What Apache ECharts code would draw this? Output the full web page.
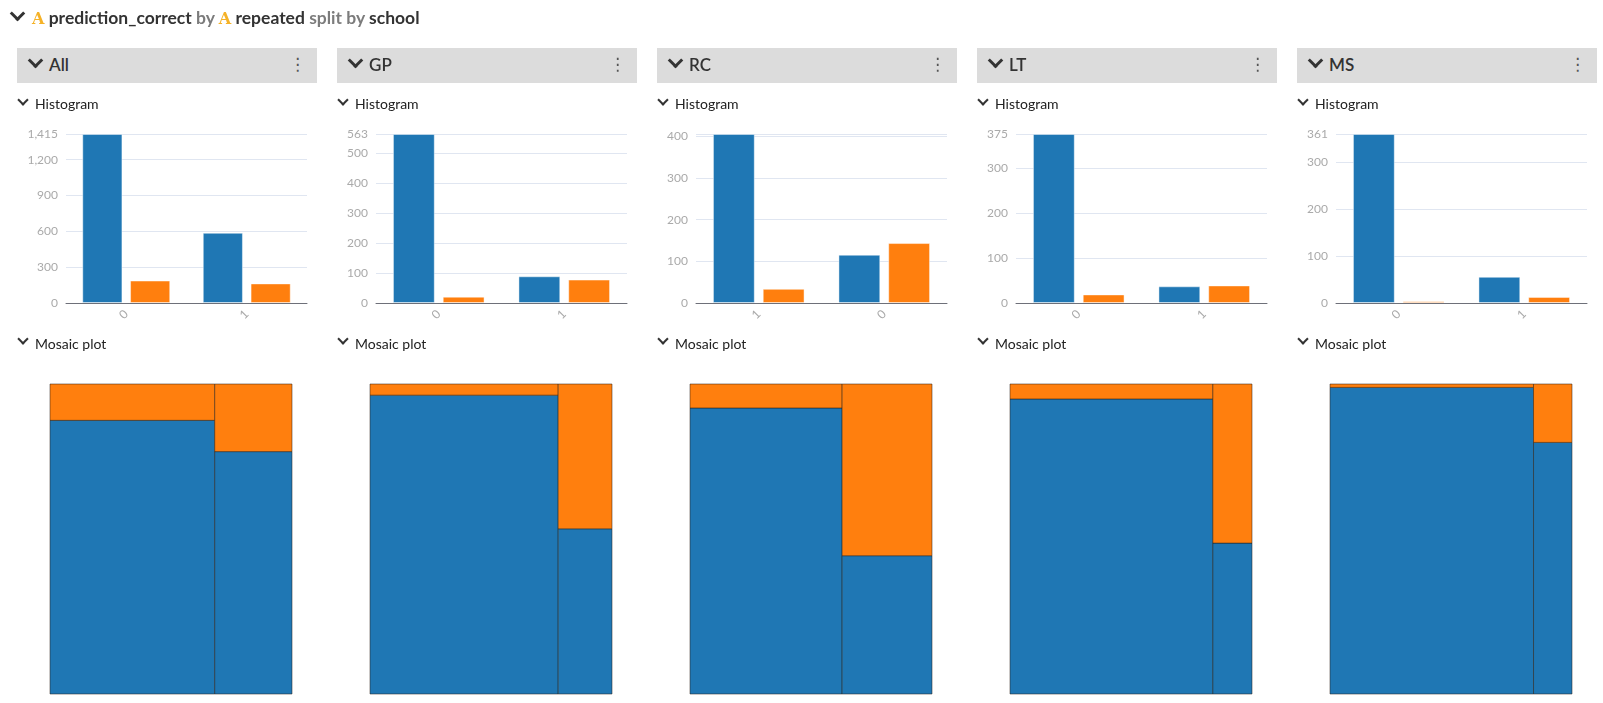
<!DOCTYPE html>
<html>
<head>
<meta charset="utf-8">
<title>prediction_correct by repeated split by school</title>
<script src="https://cdn.jsdelivr.net/npm/echarts@6.0.0/dist/echarts.min.js"></script>
<style>
  html, body { margin: 0; padding: 0; background: #fff; }
  body { width: 1603px; height: 703px; position: relative; overflow: hidden; font-family: Lato, "Open Sans", sans-serif; color: #333; }
  #chart { position: absolute; left: 0; top: 0; width: 1603px; height: 703px; }
  .abs { position: absolute; white-space: nowrap; }
  .chev { position: absolute; border-right: 3px solid #333; border-bottom: 3px solid #333; transform: rotate(45deg); }
  .title { left: 32px; top: 6px; font-size: 17.5px; font-weight: 700; color: #333; line-height: 24px; }
  .title .mute { color: #7c7c7c; }
  .title .ico { font-family: "DejaVu Serif", serif; color: #f5b227; font-weight: 700; font-size: 16px; }
  .head { top: 48px; width: 300px; height: 35px; background: #dcdcdc; }
  .head .lbl { position: absolute; left: 32px; top: 5px; font-size: 17px; font-weight: 600; color: #333; line-height: 24px; }
  .head .kebab { position: absolute; left: 272px; top: 6px; font-family: "DejaVu Sans", sans-serif; font-size: 17px; color: #555; }
  .sub { font-size: 14px; color: #222; line-height: 18px; }
</style>
</head>
<body>
<div id="chart"></div>
<div id="overlay"></div>

<script type="text/javascript">
    // schools (panels)
    var schools = ['All', 'GP', 'RC', 'LT', 'MS'];
    // repeated categories, in the order they are drawn
    var repeatedCats = [['0', '1'], ['0', '1'], ['1', '0'], ['0', '1'], ['0', '1']];
    // first prediction_correct value (blue)
    var blueCounts = [[1415, 588], [563, 89], [406, 116], [375, 37], [361, 56]];
    // second prediction_correct value (orange)
    var orangeCounts = [[188, 164], [21, 78], [34, 144], [19, 39], [4, 13]];

    var colors = ['#1f77b4', '#ff7f0e'];

    // html part: headers and section labels
    var ov = document.getElementById('overlay');
    var html = '';
    html += '<span class="chev" style="left:12px;top:8px;width:8px;height:8px;"></span>';
    html += '<div class="abs title"><span class="ico">A</span> prediction_correct <span class="mute">by</span> ' +
        '<span class="ico">A</span> repeated <span class="mute">split by</span> school</div>';
    for (var i = 0; i < schools.length; i++) {
        var px = 17 + 320 * i;
        html += '<div class="abs head" style="left:' + px + 'px;">' +
            '<span class="chev" style="left:13px;top:7px;width:8px;height:8px;"></span>' +
            '<span class="lbl">' + schools[i] + '</span><span class="kebab">&#8942;</span></div>';
        html += '<span class="chev" style="left:' + (px + 2) + 'px;top:96px;width:6px;height:6px;border-width:2.5px;"></span>';
        html += '<div class="abs sub" style="left:' + (px + 18) + 'px;top:95px;">Histogram</div>';
        html += '<span class="chev" style="left:' + (px + 2) + 'px;top:335px;width:6px;height:6px;border-width:2.5px;"></span>';
        html += '<div class="abs sub" style="left:' + (px + 18) + 'px;top:335px;">Mosaic plot</div>';
    }
    ov.innerHTML = html;

    // mosaic rectangles from counts: [x0, x1, y0, y1, colorIndex]
    function mosaicData(p) {
        var total = 0;
        for (var j = 0; j < repeatedCats[p].length; j++) total += blueCounts[p][j] + orangeCounts[p][j];
        var res = [];
        var cum = 0;
        for (var j = 0; j < repeatedCats[p].length; j++) {
            var col = blueCounts[p][j] + orangeCounts[p][j];
            var x0 = cum / total, x1 = (cum + col) / total;
            var split = blueCounts[p][j] / col;
            res.push([x0, x1, 0, split, 0]);
            res.push([x0, x1, split, 1, 1]);
            cum += col;
        }
        return res;
    }

    var grids = [], xAxes = [], yAxes = [], series = [];
    var axisFont = 'Lato, sans-serif';
    for (var i = 0; i < schools.length; i++) {
        var px = 17 + 320 * i;
        var left = (i === 0 ? 49 : 39);
        grids.push({left: px + left, top: 134, width: 290 - left, height: 169});
        xAxes.push({
            type: 'category', gridIndex: i, data: repeatedCats[i],
            axisLine: {lineStyle: {color: '#6e7079'}},
            axisTick: {lineStyle: {color: '#6e7079'}},
            axisLabel: {rotate: 45, color: '#aaa', fontFamily: axisFont, fontSize: 12, margin: 9}
        });
        yAxes.push({
            type: 'value', gridIndex: i, min: 0, max: 'dataMax',
            axisLabel: {color: '#aaa', fontFamily: axisFont, fontSize: 12},
            splitLine: {lineStyle: {color: '#e0e6f1'}}
        });
        series.push({
            type: 'bar', xAxisIndex: i, yAxisIndex: i, data: blueCounts[i],
            barGap: '19%', barCategoryGap: '27%',
            itemStyle: {color: colors[0], borderColor: 'rgba(255,255,255,0.45)', borderWidth: 1}
        });
        series.push({
            type: 'bar', xAxisIndex: i, yAxisIndex: i, data: orangeCounts[i],
            barGap: '19%', barCategoryGap: '27%',
            itemStyle: {color: colors[1], borderColor: 'rgba(255,255,255,0.45)', borderWidth: 1}
        });
    }
    for (var i = 0; i < schools.length; i++) {
        var px = 17 + 320 * i;
        var g = schools.length + i;
        grids.push({left: px + 33, top: 384, width: 242, height: 310});
        xAxes.push({type: 'value', gridIndex: g, min: 0, max: 1, show: false});
        yAxes.push({type: 'value', gridIndex: g, min: 0, max: 1, show: false});
        series.push({
            type: 'custom', xAxisIndex: g, yAxisIndex: g,
            encode: {x: [0, 1], y: [2, 3]},
            data: mosaicData(i),
            renderItem: function (params, api) {
                var p0 = api.coord([api.value(0), api.value(2)]);
                var p1 = api.coord([api.value(1), api.value(3)]);
                return {
                    type: 'rect',
                    shape: {x: p0[0], y: p1[1], width: p1[0] - p0[0], height: p0[1] - p1[1]},
                    style: {fill: colors[api.value(4)], stroke: 'rgba(40,30,20,0.5)', lineWidth: 1}
                };
            }
        });
    }

    var myChart = echarts.init(document.getElementById('chart'));
    var option = {
        animation: false,
        grid: grids,
        xAxis: xAxes,
        yAxis: yAxes,
        series: series
    };
    myChart.setOption(option);
</script>
</body>
</html>
